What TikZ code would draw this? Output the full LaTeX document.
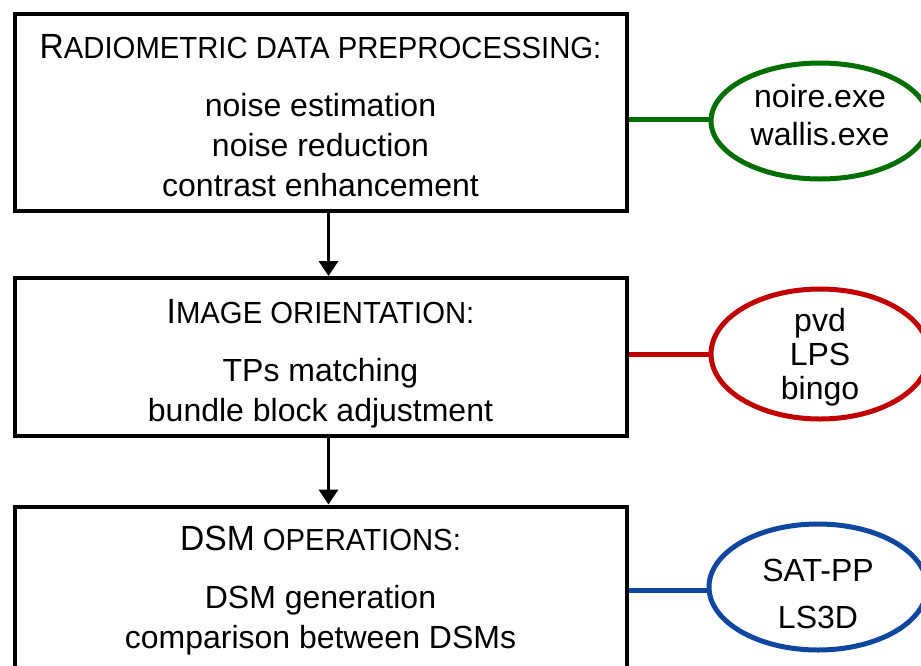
\documentclass[tikz,border=0pt]{standalone}
\usepackage{fontspec}
\setmainfont{Liberation Sans}
\newfontfamily\titlefont{Liberation Sans}[FakeStretch=0.96]
\usetikzlibrary{shapes.geometric,arrows.meta}
\definecolor{toolgreen}{RGB}{0,110,0}
\definecolor{toolred}{RGB}{192,0,0}
\definecolor{toolblue}{RGB}{14,70,160}
% fake small caps: first letters big, rest smaller capitals
\newcommand{\sctitle}[3]{\rule{0pt}{#1}{\titlefont\fontsize{35}{40}\selectfont #2}{\titlefont\fontsize{30.5}{40}\selectfont #3}}
\tikzset{
  stage/.style={draw, line width=4pt, minimum width=612pt, inner sep=0pt,
    align=center, font=\fontsize{32}{40}\selectfont},
  tool/.style={ellipse, draw=#1, line width=5pt, minimum width=218pt, inner sep=0pt},
  tooltext/.style={align=center, inner sep=0pt},
  link/.style={line width=5pt},
  >={Triangle[width=19pt,length=15pt]}
}

\begin{document}
\begin{tikzpicture}[x=1pt,y=-1pt]
    \useasboundingbox (0,0) rectangle (921,665);
    \node[stage, minimum height=197pt] (A) at (320.5,112.5) {\sctitle{30pt}{R}{ADIOMETRIC DATA PREPROCESSING:}\\[18pt]
      noise estimation\\ noise reduction\\ contrast enhancement};
    \node[stage, minimum height=158pt] (B) at (320.5,357) {\sctitle{38pt}{I}{MAGE ORIENTATION:}\\[18pt]
      TPs matching\\ bundle block adjustment};
    \node[stage, minimum height=163pt] (C) at (320.5,588) {\sctitle{30pt}{DSM}{ OPERATIONS:}\\[18pt]
      DSM generation\\ comparison between DSMs};
    \draw [->, line width=3.5pt] ([xshift=8pt]A.south) to ([xshift=8pt]B.north);
    \draw [->, line width=3.5pt] ([xshift=8pt]B.south) to ([xshift=8pt]C.north);
    % software used at each stage
    \node[tool=toolgreen, minimum height=116pt] (T1) at (820,121) {};
    \node[tool=toolred, minimum height=130pt] (T2) at (820,354) {};
    \node[tool=toolblue, minimum height=126pt] (T3) at (818,587) {};
    \node[tooltext, font=\fontsize{32}{38}\selectfont] (L1) at ([yshift=6pt]T1) {noire.exe\\wallis.exe};
    \node[tooltext, font=\fontsize{32}{34}\selectfont] (L2) at ([yshift=-3pt]T2) {pvd\\LPS\\bingo};
    \node[tooltext, font=\fontsize{32}{47}\selectfont] (L3) at ([yshift=-7pt]T3) {SAT-PP\\LS3D};
    \draw [link, toolgreen] ([yshift=2pt]T1.west) to ([yshift=2pt]T1.west -| A.east);
    \draw [link, toolred] (T2.west) to (T2.west -| B.east);
    \draw [link, toolblue] ([yshift=-3pt]T3.west) to ([yshift=-3pt]T3.west -| C.east);
\end{tikzpicture}
\end{document}
